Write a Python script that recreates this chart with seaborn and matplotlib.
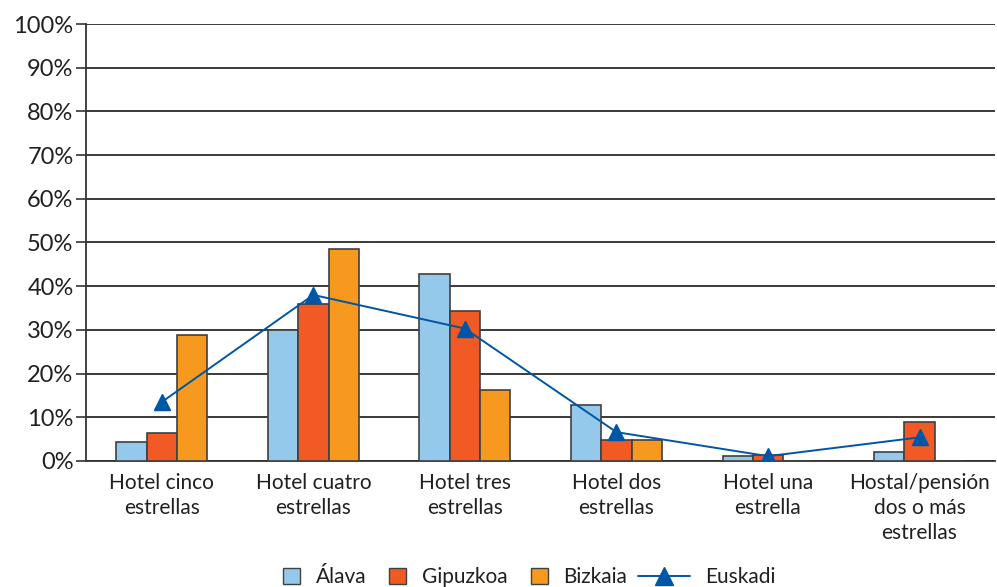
import matplotlib
matplotlib.use("Agg")
import matplotlib.pyplot as plt
import seaborn as sns
import pandas as pd
from matplotlib.patches import Patch
from matplotlib.lines import Line2D

categories = ["Hotel cinco\nestrellas", "Hotel cuatro\nestrellas", "Hotel tres\nestrellas",
              "Hotel dos\nestrellas", "Hotel una\nestrella", "Hostal/pensión\ndos o más\nestrellas"]
alava = [4.4, 30.0, 42.7, 12.8, 1.1, 2.0]
gipuzkoa = [6.3, 36.0, 34.4, 4.9, 1.4, 8.9]
bizkaia = [28.9, 48.5, 16.3, 4.9, 0.0, 0.0]
euskadi = [13.5, 38.0, 30.3, 6.6, 1.1, 5.4]
series_names = ["Álava", "Gipuzkoa", "Bizkaia"]
yticks = [0, 10, 20, 30, 40, 50, 60, 70, 80, 90, 100]
ytick_labels = [f"{v}%" for v in yticks]

colors = ["#94C9EC", "#F15A24", "#F7981F"]
line_color = "#0056A6"
text_color = "#231F20"

sns.set_style("white")
plt.rcParams["font.family"] = ["Lato", "DejaVu Sans"]

df = pd.DataFrame({
    "cat": categories * 3,
    "serie": [s for s in series_names for _ in categories],
    "val": alava + gipuzkoa + bizkaia,
})

fig = plt.figure(figsize=(9.97, 5.87), dpi=100)
ax = fig.add_axes([0.0863, 0.2147, 0.912, 0.7444])

sns.barplot(data=df, x="cat", y="val", hue="serie", palette=colors, width=0.6, saturation=1,
            edgecolor="#404040", linewidth=1.2, ax=ax, legend=False, zorder=3)
sns.pointplot(x=categories, y=euskadi, color=line_color, markers="^", linewidth=1.4,
              markersize=11, ax=ax, zorder=4)

ax.set_xlim(-0.5, 5.5)
ax.set_ylim(0, 100)
ax.set_yticks(yticks)
ax.set_yticklabels(ytick_labels, fontsize=17, color=text_color)
ax.tick_params(axis="x", length=0, labelsize=15, labelcolor=text_color, pad=9)
for lab in ax.get_xticklabels():
    lab.set_linespacing(1.3)
ax.tick_params(axis="y", length=7, width=1.2, color="#333333", pad=2, left=True)
ax.set_xlabel("")
ax.set_ylabel("")
ax.grid(axis="y", color="#2b2b2b", linewidth=1.3, zorder=0)
ax.set_axisbelow(True)
for s in ["top", "right"]:
    ax.spines[s].set_visible(False)
for s in ["left", "bottom"]:
    ax.spines[s].set_color("#333333")
    ax.spines[s].set_linewidth(1.3)

ly = 1 - 577 / 587
handles = [Patch(facecolor=c, edgecolor="#404040", linewidth=1.0) for c in colors]
leg1 = fig.legend(handles, series_names, loc="center left", bbox_to_anchor=(283 / 997, ly),
                  ncol=3, frameon=False, fontsize=15, handlelength=0.82, handleheight=0.82,
                  columnspacing=1.1, handletextpad=0.75, labelcolor=text_color,
                  borderpad=0, borderaxespad=0)
line_handle = Line2D([0], [0], color=line_color, linewidth=1.4, marker="^", markersize=13)
leg2 = fig.legend([line_handle], ["Euskadi"], loc="center left", bbox_to_anchor=(638 / 997, ly),
                  frameon=False, fontsize=15, handlelength=2.5, handletextpad=0.7,
                  labelcolor=text_color, borderpad=0, borderaxespad=0)

fig.savefig("out.png", dpi=100)
